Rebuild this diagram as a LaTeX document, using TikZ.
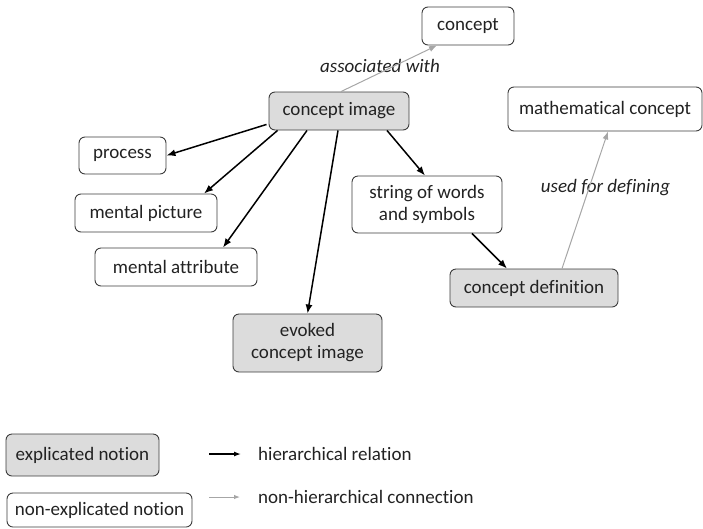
\documentclass[tikz,border=0pt]{standalone}
\usepackage{fontspec}
\setmainfont{Carlito}[Ligatures={NoCommon}]
\usetikzlibrary{arrows.meta}
\definecolor{boxfill}{HTML}{DCDCDC}
\definecolor{boxline}{HTML}{3C3C3C}
\definecolor{textgray}{HTML}{222222}
\definecolor{lightarrow}{HTML}{A6A6A6}
\begin{document}
\begin{tikzpicture}[x=1pt,y=-1pt,
  every node/.style={font=\fontsize{19}{22}\selectfont, text=textgray, inner sep=0pt, align=center},
  notion/.style={draw=boxline, line width=0.9pt, rounded corners=6pt, fill=white},
  explicated/.style={notion, fill=boxfill},
  hier/.style={line width=1.5pt, -{Latex[length=9pt,width=7pt]}},
  nonhier/.style={draw=lightarrow, line width=1pt, -{Latex[length=8pt,width=6pt]}},
  relabel/.style={font=\fontsize{19}{22}\selectfont\itshape}]
\useasboundingbox (0,0) rectangle (703,528);

% concept network
\node[notion, minimum width=92pt, minimum height=38pt] (concept) at (468,26) {concept};
\node[explicated, minimum width=140pt, minimum height=38pt] (ci) at (339,111) {concept image};
\node[notion, minimum width=87pt, minimum height=37pt] (process) at (122.5,155.5) {process};
\node[notion, minimum width=142pt, minimum height=38pt] (mpic) at (146,213) {mental picture};
\node[notion, minimum width=162pt, minimum height=38pt] (mattr) at (176,267) {mental attribute};
\node[explicated, minimum width=149pt, minimum height=58pt] (evoked) at (307.5,343) {evoked\\concept image};
\node[notion, minimum width=150pt, minimum height=57pt] (string) at (427,204.5) {string of words\\and symbols};
\node[explicated, minimum width=168pt, minimum height=38pt] (cdef) at (534,288) {concept definition};
\node[notion, minimum width=194pt, minimum height=44pt] (math) at (605,109) {mathematical concept};

\node[relabel] (assoc) at (380,66) {associated with};
\node[relabel] (usedfor) at (605.5,188) {used for defining};

% connections
\draw[nonhier] ([xshift=2pt]ci.north) -- ([xshift=-31pt]concept.south);
\draw[hier] ([xshift=-2pt,yshift=6pt]ci.south west) -- (process.east);
\draw[hier] ([xshift=9pt]ci.south west) -- ([xshift=58pt]mpic.north);
\draw[hier] ([xshift=-32pt]ci.south) -- ([xshift=47pt]mattr.north);
\draw[hier] ([xshift=-1pt]ci.south) -- (evoked.north);
\draw[hier] ([xshift=48pt]ci.south) -- ([xshift=-2pt]string.north);
\draw[hier] ([xshift=45pt]string.south) -- ([xshift=-27pt]cdef.north);
\draw[nonhier] ([xshift=28pt]cdef.north) -- ([xshift=3pt]math.south);

% legend
\node[explicated, minimum width=153pt, minimum height=42pt] (legexp) at (82.5,455) {explicated notion};
\node[notion, minimum width=185pt, minimum height=34pt] (legnon) at (99.5,510) {non-explicated notion};
\coordinate (h1) at (209,454);
\coordinate (h2) at (241,454);
\coordinate (n1) at (209,497);
\coordinate (n2) at (240,497);
\draw[hier, line width=1.3pt, -{Latex[length=7pt,width=5pt]}] (h1) -- (h2);
\draw[nonhier, -{Latex[length=6pt,width=4.5pt]}] (n1) -- (n2);
\node[anchor=west] (hiertext) at (258,454) {hierarchical relation};
\node[anchor=west] (nonhiertext) at (258,497) {non-hierarchical connection};
\end{tikzpicture}
\end{document}
